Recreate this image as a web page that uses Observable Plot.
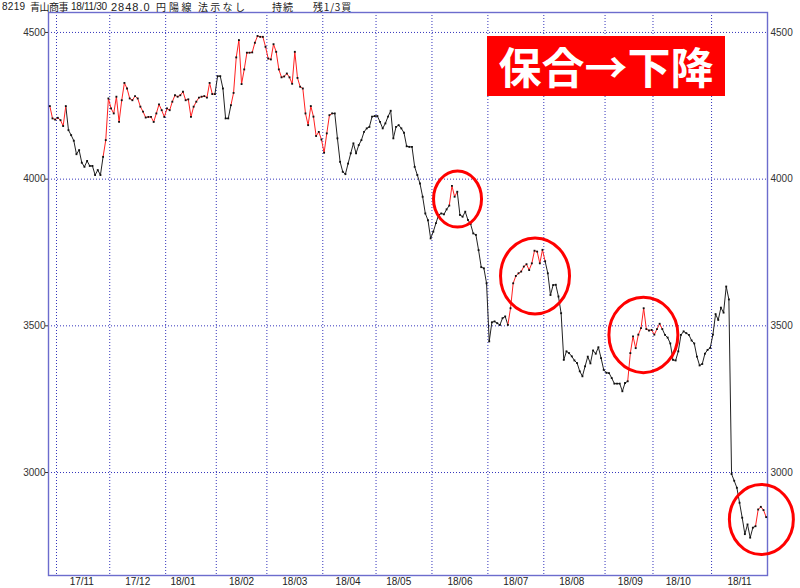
<!DOCTYPE html>
<html><head><meta charset="utf-8">
<script src="https://cdn.jsdelivr.net/npm/d3@7"></script>
<script src="https://cdn.jsdelivr.net/npm/@observablehq/plot@0.6"></script>
<style>
body{margin:0;background:#fff;}
#wrap{position:relative;width:800px;height:588px;}
#hdr{position:absolute;top:0;left:0;width:800px;font:10px "Liberation Sans","Noto Sans CJK JP",sans-serif;color:#222;}
#hdr span{position:absolute;top:0;line-height:14.6px;white-space:nowrap;}
#hdr .j{font-family:"Noto Sans CJK JP",sans-serif;font-size:10px;}
#tag{position:absolute;left:487px;top:36px;width:238px;height:60px;background:#ff0000;color:#fff;font:bold 43px "Noto Sans CJK JP",sans-serif;display:flex;align-items:center;justify-content:center;line-height:1.2;}
</style></head><body>
<div id="wrap">
<div id="chart"></div>
<div id="hdr">
<span style="left:2px;letter-spacing:0.3px">8219</span>
<span class="j" style="left:30px;letter-spacing:-0.5px">青山商事</span>
<span style="left:71px;letter-spacing:-0.3px">18/11/30</span>
<span style="left:111px;font-size:11px;letter-spacing:1px">2848.0</span>
<span class="j" style="left:156px">円</span>
<span class="j" style="left:169px;letter-spacing:2.5px">陽線</span>
<span class="j" style="left:198px;letter-spacing:2.3px">法示なし</span>
<span class="j" style="left:272px;letter-spacing:1px">持続</span>
<span class="j" style="left:313px;letter-spacing:0.8px">残1/3買</span>
</div>
<div id="tag">保合→下降</div>
</div>
<script>
// Daily closes (trading-day index 0 = 2017-10-27 ... 269 = 2018-11-30)
const values = [
4249,4207,4203,4209,4201,4181,4249,4167,4150,4131,
4085,4099,4056,4042,4062,4045,4045,4014,4031,4014,
4076,4133,4275,4241,4224,4281,4195,4269,4328,4309,
4275,4269,4283,4275,4247,4230,4210,4212,4212,4195,
4224,4255,4235,4212,4241,4235,4264,4286,4281,4286,
4298,4269,4272,4212,4247,4264,4278,4281,4283,4278,
4328,4290,4290,4351,4351,4309,4207,4207,4252,4294,
4415,4474,4324,4374,4431,4431,4432,4465,4488,4485,
4485,4451,4411,4408,4460,4434,4374,4347,4350,4360,
4347,4325,4434,4345,4315,4309,4224,4184,4249,4213,
4147,4161,4135,4090,4156,4218,4224,4224,4139,4059,
4025,4017,4053,4088,4122,4088,4116,4133,4161,4173,
4178,4213,4215,4215,4195,4173,4190,4213,4233,4139,
4178,4184,4173,4158,4112,4110,4110,4042,4014,3985,
3940,3883,3860,3798,3821,3850,3878,3883,3880,3897,
3910,3977,3940,3957,3878,3872,3889,3861,3847,3815,
3810,3758,3700,3696,3645,3447,3512,3515,3509,3503,
3526,3532,3503,3560,3645,3670,3679,3685,3702,3710,
3690,3713,3756,3753,3713,3759,3720,3679,3605,3639,
3640,3600,3543,3384,3413,3407,3396,3382,3373,3345,
3328,3362,3395,3372,3416,3405,3427,3390,3350,3340,
3339,3322,3303,3303,3303,3277,3305,3311,3407,3464,
3424,3470,3492,3560,3489,3484,3486,3470,3489,3507,
3489,3469,3460,3440,3384,3382,3413,3469,3481,3475,
3469,3450,3440,3395,3365,3370,3405,3418,3425,3470,
3540,3520,3562,3545,3634,3590,2995,2972,2948,2897,
2846,2790,2823,2778,2812,2817,2874,2883,2872,2848
];
// index ranges [start, end) of segments drawn in red
const redStart = [0, 20, 68, 150, 172, 217, 265];
const redEnd   = [6, 62, 106, 153, 186, 230, 269];
// month axis
const monthLabels = ["17/11","17/12","18/01","18/02","18/03","18/04","18/05","18/06","18/07","18/08","18/09","18/10","18/11"];
const monthStart  = [3, 23, 44, 63, 82, 103, 123, 144, 165, 186, 209, 227, 249];
const monthMid    = [12, 33, 50, 72, 92, 112, 131, 154, 175, 196, 218, 236, 259];
const yTicks = [3000, 3500, 4000, 4500];
// red ring annotations (centre in data space, radii in px)
const ringIdx = [153.1, 182.2, 222.9, 267.2];
const ringVal = [3932, 3670, 3469, 2840];
const ringRx  = [24, 34.5, 34.5, 32];
const ringRy  = [28, 38, 37.7, 35];

const pts = values.map((v, i) => ({i, v}));
const isRed = i => redStart.some((a, k) => i >= a && i < redEnd[k]);
const segs = values.slice(0, -1).map((v, i) => ({i, v, v2: values[i + 1], red: isRed(i)}));

function ellipseSymbol(aspect) {
  return {
    draw(ctx, size) {
      const rx = Math.sqrt(size / Math.PI), ry = rx * aspect, k = 0.5523;
      ctx.moveTo(rx, 0);
      ctx.bezierCurveTo(rx, ry * k, rx * k, ry, 0, ry);
      ctx.bezierCurveTo(-rx * k, ry, -rx, ry * k, -rx, 0);
      ctx.bezierCurveTo(-rx, -ry * k, -rx * k, -ry, 0, -ry);
      ctx.bezierCurveTo(rx * k, -ry, rx, -ry * k, rx, 0);
      ctx.closePath();
    }
  };
}

const gridColor = "#3434bb";
const plot = Plot.plot({
  width: 800, height: 588,
  marginLeft: 48, marginRight: 33, marginTop: 12, marginBottom: 13,
  style: {fontFamily: "'Liberation Sans', Arial, sans-serif", fontSize: "10px", background: "#fff", overflow: "visible"},
  x: {domain: [-0.5, values.length - 0.5], axis: null, label: null},
  y: {domain: [2649, 4568], axis: null, label: null},
  marks: [
    Plot.ruleY(yTicks, {stroke: gridColor, strokeDasharray: "1,2"}),
    Plot.ruleX(monthStart, {x: d => d - 0.5, stroke: gridColor, strokeDasharray: "1,2"}),
    Plot.frame({stroke: "#6c6ccd", strokeWidth: 1.4}),
    Plot.link(segs.filter(d => !d.red), {x1: "i", y1: "v", x2: d => d.i + 1, y2: "v2", stroke: "#222", strokeWidth: 1}),
    Plot.link(segs.filter(d => d.red), {x1: "i", y1: "v", x2: d => d.i + 1, y2: "v2", stroke: "#ff2020", strokeWidth: 1}),
    Plot.dot(pts, {x: "i", y: "v", symbol: "square", r: 1.05, fill: "#111", stroke: "none"}),
    Plot.axisY(yTicks, {anchor: "left", tickSize: 3, tickPadding: 0, color: "#333", fontSize: 10, tickFormat: "d", label: null}),
    Plot.axisY(yTicks, {anchor: "right", tickSize: 0, tickPadding: 3, color: "#333", fontSize: 10, tickFormat: "d", label: null}),
    Plot.axisX(monthMid, {anchor: "bottom", tickSize: 0, tickPadding: 2, color: "#222", fontSize: 10, label: null,
      tickFormat: d => monthLabels[monthMid.indexOf(d)]}),
    ...ringIdx.map((xi, k) => Plot.dot([0], {x: () => xi, y: () => ringVal[k], r: ringRx[k],
      symbol: ellipseSymbol(ringRy[k] / ringRx[k]), stroke: "#ff0000", strokeWidth: 3, fill: "none"}))
  ]
});
document.getElementById("chart").appendChild(plot);
</script>
</body></html>
